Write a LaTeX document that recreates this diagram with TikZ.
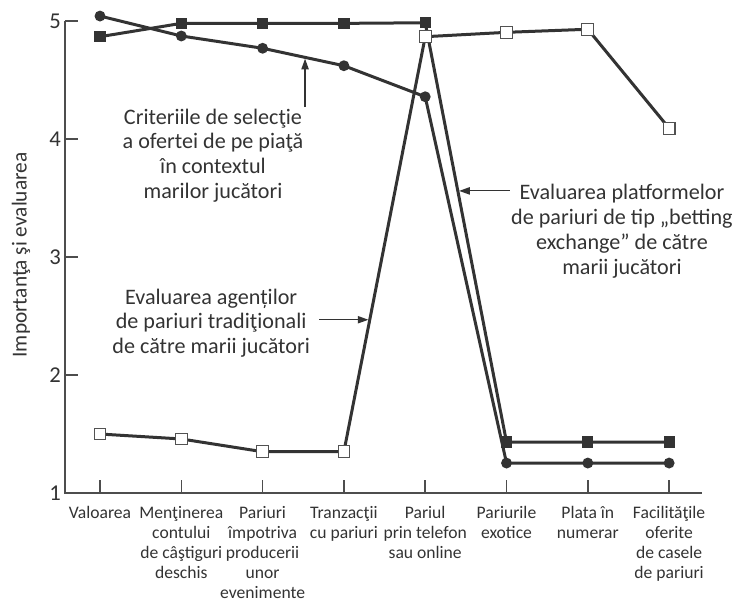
\documentclass[tikz,border=0pt]{standalone}
\usepackage{fontspec}
\setmainfont{Carlito}
\usepackage{tikz}
\usetikzlibrary{arrows.meta, backgrounds}
\definecolor{ink}{HTML}{333333}
\definecolor{axisgray}{HTML}{4D4D4D}

\begin{document}
\begin{tikzpicture}[
    x=60.975pt, y=88.5pt,
    axisline/.style={draw=axisgray, line width=1.1pt},
    ticknum/.style={left, inner sep=2.5pt, text=ink, font=\fontsize{17pt}{19pt}\selectfont},
    catlabel/.style={anchor=north, inner sep=0pt, align=center, text=ink, font=\fontsize{13.2pt}{15pt}\selectfont},
    axistitle/.style={rotate=90, text=ink, font=\fontsize{16pt}{18pt}\selectfont},
    critdot/.style={circle, fill=ink, inner sep=0pt, minimum size=8.2pt},
    exchbox/.style={rectangle, fill=ink, inner sep=0pt, minimum size=8.4pt},
    agentbox/.style={rectangle, draw=ink!85, fill=white, line width=0.8pt, inner sep=0pt, minimum size=8.8pt},
    series/.style={draw=ink, line width=2.25pt, line join=round},
    note/.style={inner sep=1pt, align=center, text=ink, font=\fontsize{16.6pt}{18.6pt}\selectfont},
    pointer/.style={-{Triangle[length=8pt, width=5.5pt]}, draw=ink, line width=0.9pt, shorten >=1pt}
]
    \useasboundingbox (-0.230,0.068) rectangle (8.798,5.178);

    % Axes
    \coordinate (ytop) at (0.570,5);
    \coordinate (origin) at (0.570,1);
    \coordinate (xend) at (8.405,1);
    \draw[axisline] (ytop) -- (origin) -- (xend);
    \node[axistitle] (ytitle) at (0.028,3.017) {Importanţa şi evaluarea};

    % y ticks
    \draw[axisline] (0.570,5) node[ticknum] {5} -- ++(0.16,0);
    \draw[axisline] (0.570,4) node[ticknum] {4} -- ++(0.16,0);
    \draw[axisline] (0.570,3) node[ticknum] {3} -- ++(0.16,0);
    \draw[axisline] (0.570,2) node[ticknum] {2} -- ++(0.16,0);
    \draw[axisline] (0.570,1) node[ticknum] {1} -- ++(0.16,0);

    % x ticks and categories
    \draw[axisline] (1,1) -- ++(0,0.11);
    \draw[axisline] (2,1) -- ++(0,0.11);
    \draw[axisline] (3,1) -- ++(0,0.11);
    \draw[axisline] (4,1) -- ++(0,0.11);
    \draw[axisline] (5,1) -- ++(0,0.11);
    \draw[axisline] (6,1) -- ++(0,0.11);
    \draw[axisline] (7,1) -- ++(0,0.11);
    \draw[axisline] (8,1) -- ++(0,0.11);

    \node[catlabel] (cat1) at (1,0.892) {Valoarea};
    \node[catlabel] (cat2) at (2,0.892) {Menţinerea\\contului\\de câştiguri\\deschis};
    \node[catlabel] (cat3) at (3,0.892) {Pariuri\\împotriva\\producerii\\unor\\evenimente};
    \node[catlabel] (cat4) at (4,0.892) {Tranzacţii\\cu pariuri};
    \node[catlabel] (cat5) at (5,0.892) {Pariul\\prin telefon\\sau online};
    \node[catlabel] (cat6) at (6,0.892) {Pariurile\\exotice};
    \node[catlabel] (cat7) at (7,0.892) {Plata în\\numerar};
    \node[catlabel] (cat8) at (8,0.892) {Facilităţile\\oferite\\de casele\\de pariuri};

    % Selection criteria (circles)
    \node[critdot] (c1) at (1,5.042) {};
    \node[critdot] (c2) at (2,4.873) {};
    \node[critdot] (c3) at (3,4.769) {};
    \node[critdot] (c4) at (4,4.621) {};
    \node[critdot] (c5) at (5,4.358) {};
    \node[critdot] (c6) at (6,1.254) {};
    \node[critdot] (c7) at (7,1.254) {};
    \node[critdot] (c8) at (8,1.254) {};

    % Betting exchange platforms (filled squares)
    \node[exchbox] (b1) at (1,4.867) {};
    \node[exchbox] (b2) at (2,4.980) {};
    \node[exchbox] (b3) at (3,4.980) {};
    \node[exchbox] (b4) at (4,4.980) {};
    \node[exchbox] (b5) at (5,4.985) {};
    \node[exchbox] (b6) at (6,1.432) {};
    \node[exchbox] (b7) at (7,1.432) {};
    \node[exchbox] (b8) at (8,1.432) {};

    % Traditional agents (open squares)
    \node[agentbox] (a1) at (1,1.500) {};
    \node[agentbox] (a2) at (2,1.458) {};
    \node[agentbox] (a3) at (3,1.350) {};
    \node[agentbox] (a4) at (4,1.350) {};
    \node[agentbox] (a5) at (5,4.867) {};
    \node[agentbox] (a6) at (6,4.904) {};
    \node[agentbox] (a7) at (7,4.930) {};
    \node[agentbox] (a8) at (8,4.091) {};

    \begin{scope}[on background layer]
        \draw[series] (c1.center) -- (c2.center) -- (c3.center) -- (c4.center) -- (c5.center) -- (c6.center) -- (c7.center) -- (c8.center);
        \draw[series] (b1.center) -- (b2.center) -- (b3.center) -- (b4.center) -- (b5.center) -- (b6.center) -- (b7.center) -- (b8.center);
        \draw[series] (a1.center) -- (a2.center) -- (a3.center) -- (a4.center) -- (a5.center) -- (a6.center) -- (a7.center) -- (a8.center);
    \end{scope}

    % Annotations
    \node[note] (critLbl) at (2.390,3.860) {Criteriile de selecţie\\a ofertei de pe piaţă\\în contextul\\marilor jucători};
    \path (c3.center) -- (c4.center) coordinate[pos=0.522] (critTip);
    \draw[pointer] (critLbl.north -| critTip) -- (critTip);

    \node[note] (agentLbl) at (2.367,2.440) {Evaluarea agenților\\de pariuri tradiţionali\\de către marii jucători};
    \path (a4.center) -- (a5.center) coordinate[pos=0.318] (agentTip);
    \draw[pointer] ([xshift=6pt]agentLbl.east |- agentTip) -- (agentTip);

    \node[note] (exchLbl) at (7.420,3.220) {Evaluarea platformelor\\de pariuri de tip „betting\\exchange” de către\\marii jucători};
    \path (b5.center) -- (b6.center) coordinate[pos=0.401] (exchTip);
    \draw[pointer] (exchLbl.west |- exchTip) -- (exchTip);
\end{tikzpicture}
\end{document}
